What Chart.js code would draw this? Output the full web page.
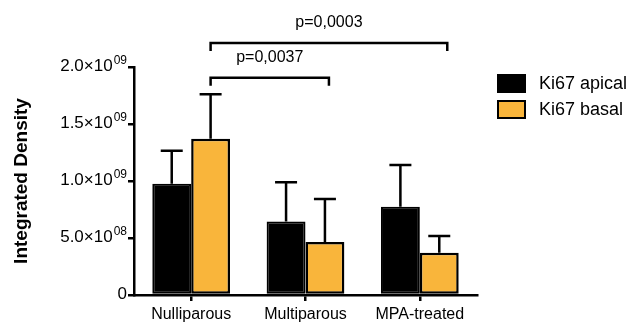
<!DOCTYPE html>
<html>
<head>
<meta charset="utf-8">
<script src="https://cdn.jsdelivr.net/npm/chart.js@4/dist/chart.umd.min.js"></script>
<style>
  html, body { margin: 0; padding: 0; background: #fff; }
  #wrap { width: 632px; height: 326px; position: relative; }
</style>
</head>
<body>
<div id="wrap"><canvas id="chart"></canvas></div>
<script>
const categories = ['Nulliparous', 'Multiparous', 'MPA-treated'];
const apicalValues = [0.975e9, 0.645e9, 0.775e9];
const apicalErrors = [0.29e9, 0.345e9, 0.365e9];
const basalValues = [1.37e9, 0.465e9, 0.37e9];
const basalErrors = [0.39e9, 0.377e9, 0.148e9];
const yTicks = [0, 0.5e9, 1.0e9, 1.5e9, 2.0e9];

// significance brackets: category index from/to, height (data units), label
const comparisons = [
  { from: 0, to: 1, level: 1.905e9, label: 'p=0,0037' },
  { from: 0, to: 2, level: 2.21e9, label: 'p=0,0003' },
];

const FONT = '"Liberation Sans", Arial, Helvetica, sans-serif';

// split a tick value into mantissa text and exponent text
function sciParts(v) {
  if (v === 0) return ['0', ''];
  const exp = Math.floor(Math.log10(v) + 1e-9);
  const mant = (v / Math.pow(10, exp)).toFixed(1);
  return [mant + '×10', String(exp).padStart(2, '0')];
}

const errorBars = {
  id: 'errorBars',
  afterDatasetsDraw(chart) {
    const { ctx, scales } = chart;
    ctx.save();
    ctx.strokeStyle = '#000';
    ctx.lineWidth = 2.5;
    chart.data.datasets.forEach((ds, i) => {
      const meta = chart.getDatasetMeta(i);
      meta.data.forEach((bar, j) => {
        const top = scales.y.getPixelForValue(ds.data[j] + ds.errors[j]);
        ctx.beginPath();
        ctx.moveTo(bar.x, bar.y);
        ctx.lineTo(bar.x, top);
        ctx.moveTo(bar.x - 11, top);
        ctx.lineTo(bar.x + 11, top);
        ctx.stroke();
      });
    });
    ctx.restore();
  },
};

const sciTicks = {
  id: 'sciTicks',
  afterDraw(chart) {
    const { ctx, scales } = chart;
    const right = scales.y.right - 7;
    ctx.save();
    ctx.fillStyle = '#000';
    ctx.textBaseline = 'alphabetic';
    ctx.textAlign = 'left';
    scales.y.ticks.forEach((t) => {
      const y = scales.y.getPixelForValue(t.value);
      const [main, sup] = sciParts(t.value);
      ctx.font = '12px ' + FONT;
      const supW = sup ? ctx.measureText(sup).width : 0;
      ctx.font = '17px ' + FONT;
      const mainW = ctx.measureText(main).width;
      const x0 = right - supW - mainW - (sup ? 1 : 0);
      ctx.fillText(main, x0, y + 4);
      if (sup) {
        ctx.font = '12px ' + FONT;
        ctx.fillText(sup, x0 + mainW + 1, y - 3);
      }
    });
    ctx.restore();
  },
};

const annotations = {
  id: 'annotations',
  afterDraw(chart) {
    const { ctx, scales } = chart;
    const basal = chart.getDatasetMeta(1).data;
    ctx.save();
    ctx.strokeStyle = '#000';
    ctx.lineWidth = 2.5;
    ctx.fillStyle = '#000';
    ctx.font = '16px ' + FONT;
    ctx.textAlign = 'center';
    ctx.textBaseline = 'bottom';
    comparisons.forEach((c) => {
      const x1 = basal[c.from].x;
      const x2 = basal[c.to].x + (c.to - c.from) * 4;
      const y = scales.y.getPixelForValue(c.level);
      ctx.beginPath();
      ctx.moveTo(x1, y + 8);
      ctx.lineTo(x1, y);
      ctx.lineTo(x2, y);
      ctx.lineTo(x2, y + 8);
      ctx.stroke();
      ctx.fillText(c.label, (x1 + x2) / 2, y - 12);
    });

    // legend
    ctx.font = '18px ' + FONT;
    ctx.textAlign = 'left';
    ctx.textBaseline = 'middle';
    chart.data.datasets.forEach((ds, i) => {
      const top = 75 + i * 26;
      ctx.fillStyle = ds.backgroundColor;
      ctx.fillRect(498, top, 27, 17);
      ctx.lineWidth = 2;
      ctx.strokeRect(498, top, 27, 17);
      ctx.fillStyle = '#000';
      ctx.fillText(ds.label, 539, top + 9);
    });
    ctx.restore();
  },
};

new Chart(document.getElementById('chart'), {
  type: 'bar',
  data: {
    labels: categories,
    datasets: [
      {
        label: 'Ki67 apical',
        data: apicalValues,
        errors: apicalErrors,
        backgroundColor: '#000000',
        borderColor: '#000000',
        borderWidth: 2,
        borderSkipped: false,
      },
      {
        label: 'Ki67 basal',
        data: basalValues,
        errors: basalErrors,
        backgroundColor: '#F9B53B',
        borderColor: '#000000',
        borderWidth: 2.5,
        borderSkipped: false,
      },
    ],
  },
  options: {
    responsive: true,
    maintainAspectRatio: false,
    animation: false,
    categoryPercentage: 0.68,
    barPercentage: 1,
    layout: { padding: { top: 67, right: 155, left: 0, bottom: 0 } },
    plugins: {
      legend: { display: false },
      tooltip: { enabled: false },
    },
    scales: {
      x: {
        offset: true,
        grid: {
          offset: false,
          drawOnChartArea: false,
          drawTicks: true,
          tickLength: 6,
          color: '#000',
          lineWidth: 2.5,
        },
        border: { color: '#000', width: 2.5 },
        ticks: { color: '#000', font: { family: FONT, size: 16 }, padding: 4 },
        afterFit(scale) { scale.height = 31; },
      },
      y: {
        min: 0,
        max: 2.0e9,
        afterBuildTicks(scale) { scale.ticks = yTicks.map((v) => ({ value: v })); },
        grid: {
          drawOnChartArea: false,
          drawTicks: true,
          tickLength: 6,
          color: '#000',
          lineWidth: 2.5,
        },
        border: { color: '#000', width: 2.5 },
        ticks: { display: false },
        title: {
          display: true,
          text: 'Integrated Density',
          color: '#000',
          font: { family: FONT, size: 19, weight: 'bold' },
          padding: { top: 10, bottom: 0 },
        },
        afterFit(scale) { scale.width = 134; },
      },
    },
  },
  plugins: [errorBars, sciTicks, annotations],
});
</script>
</body>
</html>
